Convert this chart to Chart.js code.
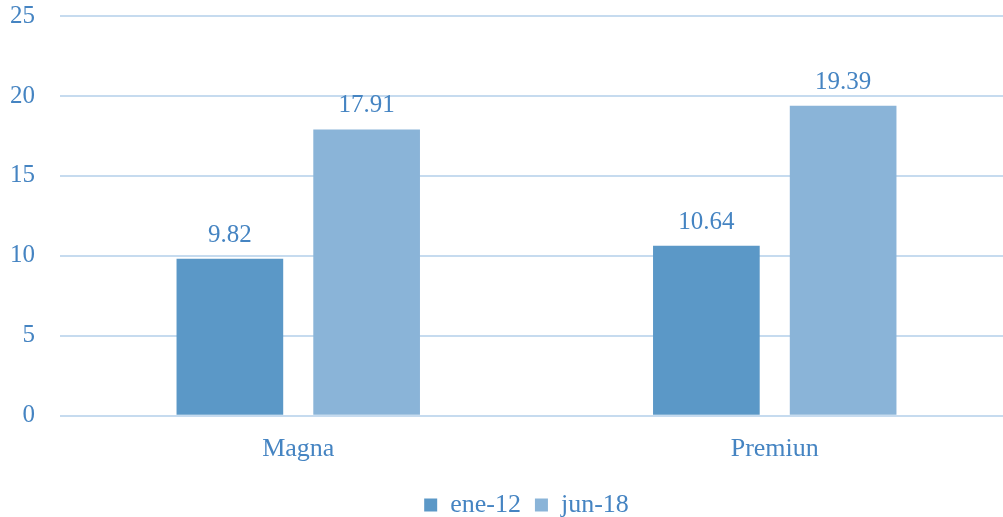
<!DOCTYPE html>
<html><head><meta charset="utf-8">
<script src="https://cdn.jsdelivr.net/npm/chart.js@4"></script>
<style>html,body{margin:0;padding:0;background:#fff;overflow:hidden}#wrap{width:1003px;height:517px;overflow:hidden}</style>
</head><body><div id="wrap"><canvas id="c" width="1013" height="517"></canvas></div>
<script>
const categories = ["Magna", "Premiun"];
const seriesNames = ["ene-12", "jun-18"];
const ene12 = [9.82, 10.64];
const jun18 = [17.91, 19.39];
const yTicks = [0, 5, 10, 15, 20, 25];

const textColor = '#4584c2';
const FONT = "'Liberation Serif', 'Times New Roman', serif";

const valueLabels = {
  id: 'valueLabels',
  afterLayout(chart) {
    // let the y tick labels draw left of the scale box
    chart.scales.y.left = 0;
    // nudge the legend down a little
    if (chart.legend) { chart.legend.top += 3; chart.legend.bottom += 3; }
  },
  afterDatasetsDraw(chart) {
    const ctx = chart.ctx;
    ctx.save();
    ctx.fillStyle = textColor;
    ctx.font = "25px " + FONT;
    ctx.textAlign = 'center';
    ctx.textBaseline = 'bottom';
    chart.data.datasets.forEach((ds, i) => {
      chart.getDatasetMeta(i).data.forEach((bar, j) => {
        ctx.fillText(ds.data[j].toFixed(2), bar.x, bar.y - 11);
      });
    });
    ctx.restore();
  }
};

new Chart(document.getElementById('c'), {
  type: 'bar',
  data: {
    labels: categories,
    datasets: [
      { label: seriesNames[0], data: ene12, backgroundColor: '#5b98c7' },
      { label: seriesNames[1], data: jun18, backgroundColor: '#8ab4d8' }
    ]
  },
  options: {
    responsive: false,
    animation: false,
    devicePixelRatio: 1,
    layout: { padding: { top: 16, right: 0, left: 40, bottom: -8 } },
    categoryPercentage: 0.574,
    barPercentage: 0.78,
    plugins: {
      legend: {
        position: 'bottom',
        labels: { color: textColor, font: { family: FONT, size: 26 }, boxWidth: 13, boxHeight: 13, padding: 14 }
      },
      tooltip: { enabled: false }
    },
    scales: {
      x: {
        grid: { display: false },
        border: { display: false },
        ticks: { color: textColor, font: { family: FONT, size: 26 }, padding: 10 }
      },
      y: {
        min: 0, max: 25,
        afterBuildTicks(s) { s.ticks = yTicks.map(v => ({ value: v })); },
        afterFit(s) { s.width = 20; s.paddingTop = 0; s.paddingBottom = 0; },
        grid: { color: '#c6dbef', lineWidth: 2, drawTicks: false },
        border: { display: false },
        ticks: { color: textColor, font: { family: FONT, size: 25 }, padding: 25 }
      }
    }
  },
  plugins: [valueLabels]
});
</script></body></html>
